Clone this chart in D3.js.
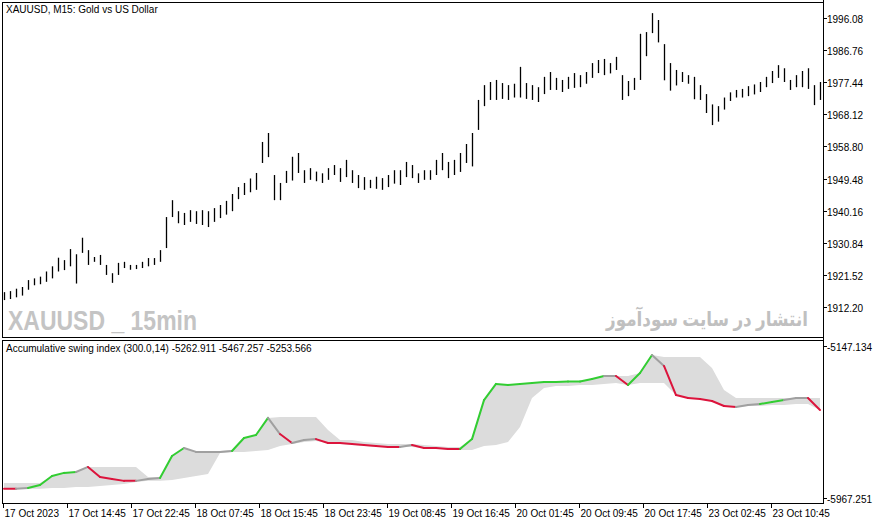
<!DOCTYPE html>
<html><head><meta charset="utf-8">
<script src="https://cdn.jsdelivr.net/npm/d3@7"></script>
<style>body{margin:0;background:#fff}svg{display:block}</style>
</head><body><svg id="c" width="876" height="525"></svg>
<script>
const highs=[1916.5,1916.8,1917.5,1918.0,1920.0,1920.5,1921.0,1922.5,1924.0,1926.5,1925.8,1929.0,1927.5,1932.3,1928.7,1926.7,1927.3,1924.4,1922.0,1925.0,1925.3,1924.4,1924.4,1925.3,1926.4,1926.4,1928.7,1938.3,1943.2,1940.0,1939.5,1940.3,1940.0,1940.3,1940.0,1940.9,1941.8,1943.0,1945.0,1947.0,1948.2,1949.5,1951.1,1960.1,1962.7,1950.5,1948.2,1951.7,1955.8,1956.9,1951.9,1952.5,1951.5,1951.0,1952.5,1953.4,1952.5,1954.9,1951.9,1950.5,1949.9,1949.1,1950.0,1949.6,1950.5,1951.9,1951.9,1954.3,1953.4,1951.0,1951.9,1951.9,1954.9,1956.9,1954.3,1954.9,1956.9,1959.5,1962.7,1972.3,1976.6,1977.5,1978.1,1977.2,1976.6,1977.0,1981.9,1977.2,1976.6,1976.0,1979.0,1980.4,1978.7,1978.1,1979.0,1980.1,1979.5,1980.4,1983.0,1983.9,1984.2,1983.0,1984.8,1979.5,1977.8,1978.7,1991.5,1992.0,1997.5,1995.5,1988.5,1983.0,1981.0,1980.4,1979.5,1979.0,1976.6,1974.0,1971.0,1970.5,1973.0,1974.5,1975.2,1975.5,1976.3,1976.8,1977.5,1979.0,1980.7,1982.4,1981.5,1978.1,1979.5,1980.7,1981.5,1976.6,1977.5];
const lows=[1914.2,1914.5,1915.0,1915.5,1917.2,1918.5,1918.8,1919.5,1920.5,1922.5,1922.9,1924.0,1919.0,1927.9,1924.4,1925.3,1924.4,1921.5,1919.2,1921.5,1923.5,1923.0,1923.2,1923.5,1924.0,1924.4,1925.3,1929.3,1938.3,1936.5,1936.0,1936.9,1936.3,1936.0,1935.4,1936.9,1938.0,1939.0,1940.0,1943.5,1944.7,1945.5,1946.2,1954.0,1955.7,1943.2,1943.2,1948.2,1948.9,1951.1,1948.2,1949.1,1948.7,1948.2,1949.1,1950.5,1948.5,1949.9,1948.2,1946.7,1946.2,1946.7,1946.5,1946.2,1947.0,1948.0,1947.6,1949.9,1949.6,1948.2,1949.1,1949.1,1950.5,1951.9,1949.6,1950.5,1951.4,1954.0,1953.0,1963.6,1970.5,1972.3,1972.3,1972.6,1972.3,1973.0,1973.0,1972.6,1972.3,1971.7,1974.0,1975.2,1975.2,1974.6,1975.5,1975.8,1976.0,1977.0,1978.7,1980.1,1979.5,1980.0,1981.0,1972.3,1973.4,1975.2,1978.1,1985.0,1991.7,1989.0,1978.0,1975.0,1976.5,1977.5,1977.0,1972.5,1972.3,1968.5,1965.0,1966.0,1969.5,1972.0,1973.0,1973.0,1973.4,1973.9,1974.6,1976.0,1977.2,1978.7,1977.5,1975.2,1976.0,1976.0,1975.5,1970.8,1972.3];
const priceTicks=[1996.08,1986.76,1977.44,1968.12,1958.80,1949.48,1940.16,1930.84,1921.52,1912.20];
const asi=[-5918,-5918,-5913,-5897,-5849,-5832,-5827,-5800,-5854,-5865,-5875,-5875,-5865,-5859,-5741,-5698,-5719,-5719,-5719,-5714,-5644,-5628,-5536,-5623,-5671,-5655,-5650,-5671,-5671,-5676,-5682,-5687,-5693,-5693,-5682,-5698,-5698,-5703,-5703,-5650,-5440,-5353,-5359,-5353,-5348,-5343,-5343,-5340,-5340,-5326,-5310,-5310,-5359,-5294,-5197,-5256,-5413,-5429,-5434,-5445,-5472,-5477,-5466,-5461,-5450,-5440,-5429,-5429,-5493];
const trend=["r","r","g0","g","g","g","g","g0","r","r","r","r","g0","g0","g","g","g0","g0","g0","g0","g","g","g","g0","r","g0","g0","r","r","r","r","r","r","r","g0","r","r","r","r","g","g","g","g","g","g","g","g","g","g","g","g","g0","r","g","g","g0","r","r","r","r","r","r","g0","g0","g","g","g0","g0","r"];
const bandHi=[-5886,-5886,-5886,-5886,-5849,-5832,-5827,-5800,-5800,-5800,-5800,-5800,-5854,-5854,-5741,-5698,-5719,-5719,-5714,-5709,-5644,-5628,-5536,-5531,-5531,-5531,-5531,-5601,-5655,-5655,-5666,-5671,-5676,-5676,-5676,-5682,-5687,-5693,-5693,-5650,-5440,-5353,-5353,-5353,-5348,-5343,-5343,-5337,-5337,-5326,-5310,-5310,-5310,-5294,-5197,-5208,-5208,-5208,-5208,-5267,-5386,-5429,-5429,-5429,-5429,-5429,-5429,-5429,-5429];
const bandLo=[-5918,-5918,-5918,-5918,-5913,-5913,-5908,-5908,-5902,-5897,-5892,-5881,-5875,-5875,-5870,-5859,-5849,-5838,-5725,-5719,-5719,-5714,-5709,-5687,-5676,-5666,-5660,-5671,-5676,-5682,-5687,-5693,-5693,-5693,-5693,-5698,-5698,-5709,-5709,-5709,-5687,-5682,-5666,-5585,-5429,-5375,-5364,-5364,-5359,-5359,-5353,-5348,-5359,-5348,-5348,-5348,-5413,-5429,-5434,-5445,-5472,-5477,-5472,-5472,-5466,-5466,-5461,-5461,-5493];
const timeLabels=["17 Oct 2023","17 Oct 14:45","17 Oct 22:45","18 Oct 07:45","18 Oct 15:45","18 Oct 23:45","19 Oct 08:45","19 Oct 16:45","20 Oct 01:45","20 Oct 09:45","20 Oct 17:45","23 Oct 02:45","23 Oct 10:45"];
const asiTicks=[-5147.134,-5967.251];
const asiValues="-5262.911 -5467.257 -5253.566";

const svg=d3.select("#c");
const F="'Liberation Sans',Arial,sans-serif";
const L=2,R=823,T=2,B1=337,T2=340,B2=503;
svg.append("rect").attr("x",L+0.5).attr("y",T+0.5).attr("width",R-L).attr("height",B1-T).attr("fill","none").attr("stroke","#000");
svg.append("rect").attr("x",L+0.5).attr("y",T2+0.5).attr("width",R-L).attr("height",B2-T2).attr("fill","none").attr("stroke","#000");

const xb=d3.scaleLinear().domain([0,highs.length-1]).range([4,820]);
const yp=d3.scaleLinear().domain([1903.77,2000.73]).range([336,2]);
svg.append("text").attr("x",8).attr("y",330).attr("font-family",F).attr("font-weight","bold").attr("font-size",28)
 .attr("textLength",189).attr("lengthAdjust","spacingAndGlyphs").attr("fill","#c4c4c4").text("XAUUSD _ 15min");
svg.append("text").attr("x",606).attr("y",326).attr("font-family","'Noto Sans','DejaVu Sans',sans-serif").attr("font-weight","bold").attr("font-size",20)
 .attr("textLength",202).attr("lengthAdjust","spacingAndGlyphs").attr("fill","#c0c0c0").text("انتشار در سایت سودآموز");
svg.append("g").selectAll("line").data(highs).join("line")
 .attr("x1",(d,i)=>Math.round(xb(i))+0.5).attr("x2",(d,i)=>Math.round(xb(i))+0.5)
 .attr("y1",d=>yp(d)).attr("y2",(d,i)=>yp(lows[i])).attr("stroke","#000").attr("stroke-width",1.3);
const pa=svg.append("g");
priceTicks.forEach(t=>{const y=Math.round(yp(t))+0.5;
 pa.append("line").attr("x1",R).attr("x2",R+4).attr("y1",y).attr("y2",y).attr("stroke","#000");
 pa.append("text").attr("x",R+4).attr("y",y+4).attr("font-family",F).attr("font-size",10).text(t.toFixed(2));});
svg.append("line").attr("x1",R+0.5).attr("x2",R+0.5).attr("y1",0).attr("y2",B2).attr("stroke","#000");
svg.append("text").attr("x",6).attr("y",13).attr("font-family",F).attr("font-size",10).text("XAUUSD, M15:  Gold vs US Dollar");

const xk=d3.scaleLinear().domain([0,asi.length-1]).range([4,820]);
const ya=d3.scaleLinear().domain([-5967.251,-5147.134]).range([498,345.7]);
const area=d3.area().x((d,i)=>xk(i)).y0((d,i)=>ya(bandLo[i])).y1(d=>ya(d));
svg.append("path").attr("d",area(bandHi)).attr("fill","#dcdcdc");
const col={r:"#dc143c",g:"#32cd32",g0:"#a0a0a0"};
for(let i=1;i<asi.length;i++){
 svg.append("line").attr("x1",xk(i-1)).attr("y1",ya(asi[i-1])).attr("x2",xk(i)).attr("y2",ya(asi[i]))
  .attr("stroke",col[trend[i]]).attr("stroke-width",2).attr("stroke-linecap","round");
}
svg.append("text").attr("x",6).attr("y",352).attr("font-family",F).attr("font-size",10).text("Accumulative swing index (300.0,14) "+asiValues);
asiTicks.forEach(t=>{const y=Math.round(ya(t))+0.5;
 svg.append("line").attr("x1",R).attr("x2",R+4).attr("y1",y).attr("y2",y).attr("stroke","#000");
 svg.append("text").attr("x",R+4).attr("y",y+4).attr("font-family",F).attr("font-size",10).text(t.toFixed(3));});
const xt=d3.scalePoint().domain(timeLabels).range([2.5,770.5]);
timeLabels.forEach(t=>{const x=Math.round(xt(t))+0.5;
 svg.append("line").attr("x1",x).attr("x2",x).attr("y1",B2).attr("y2",B2+5).attr("stroke","#000");
 svg.append("text").attr("x",x+1).attr("y",517).attr("font-family",F).attr("font-size",10).text(t);});
</script></body></html>
